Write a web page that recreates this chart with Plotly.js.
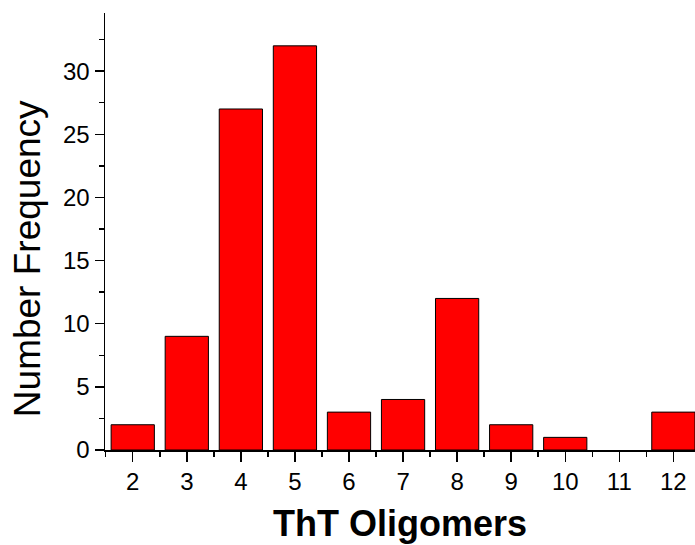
<!DOCTYPE html>
<html>
<head>
<meta charset="utf-8">
<script src="https://cdn.plot.ly/plotly-3.0.1.min.js"></script>
<style>html,body{margin:0;padding:0;background:#fff;}#chart{width:695px;height:545px;}</style>
</head>
<body>
<div id="chart"></div>
<script>
var oligomers = [2, 3, 4, 5, 6, 7, 8, 9, 10, 11, 12];
var frequency = [2, 9, 27, 32, 3, 4, 12, 2, 1, 0, 3];
var xTitle = "ThT Oligomers";
var yTitle = "Number Frequency";

var fontFam = "Liberation Sans, Arial, sans-serif";
var trace = {
  type: "bar",
  x: oligomers,
  y: frequency,
  width: 0.8,
  marker: {color: "#ff0000", line: {color: "#000000", width: frequency.map(function(v){return v > 0 ? 1 : 0;})}},
  hoverinfo: "x+y"
};
var layout = {
  width: 695, height: 545,
  margin: {l: 105, r: 0, t: 13, b: 95, pad: 0},
  paper_bgcolor: "#ffffff", plot_bgcolor: "#ffffff",
  showlegend: false,
  font: {family: fontFam, color: "#000000", size: 24},
  xaxis: {
    range: [1.487, 12.40],
    tickmode: "array", tickvals: oligomers, ticktext: oligomers.map(String),
    ticks: "outside", ticklen: 10, tickwidth: 1.5, tickcolor: "#000",
    minor: {tickvals: [1.5,2.5,3.5,4.5,5.5,6.5,7.5,8.5,9.5,10.5,11.5], ticks: "outside", ticklen: 5, tickwidth: 1.5, tickcolor: "#000"},
    showline: true, linecolor: "#000", linewidth: 1.5,
    showgrid: false, zeroline: false,
    tickfont: {family: fontFam, size: 24, color: "#000"},
    title: {text: xTitle, font: {family: fontFam, size: 36, color: "#000", weight: "bold"}, standoff: 16}
  },
  yaxis: {
    range: [0, 34.6],
    tick0: 0, dtick: 5,
    ticks: "outside", ticklen: 9, tickwidth: 1.5, tickcolor: "#000",
    minor: {dtick: 2.5, ticks: "outside", ticklen: 5, tickwidth: 1.5, tickcolor: "#000"},
    showline: true, linecolor: "#000", linewidth: 1.5,
    showgrid: false, zeroline: false,
    tickfont: {family: fontFam, size: 24, color: "#000"}
  },
  annotations: [{
    text: yTitle, xref: "paper", yref: "paper",
    x: -0.132, y: 0.437, xanchor: "center", yanchor: "middle",
    textangle: -90, showarrow: false,
    font: {family: fontFam, size: 37, color: "#000"}
  }]
};
Plotly.newPlot("chart", [trace], layout, {displayModeBar: false, staticPlot: true});
</script>
</body>
</html>
